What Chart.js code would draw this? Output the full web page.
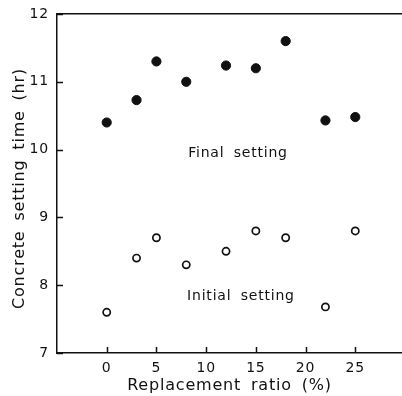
<!DOCTYPE html>
<html>
<head>
<meta charset="utf-8">
<script src="https://cdn.jsdelivr.net/npm/chart.js@4.4.1/dist/chart.umd.min.js"></script>
<style>
html,body{margin:0;padding:0;background:#fff;}
#wrap{width:402px;height:396px;}
</style>
</head>
<body>
<div id="wrap"><canvas id="c" width="402" height="396"></canvas></div>
<script>
const replacementRatio = [0, 3, 5, 8, 12, 15, 18, 22, 25];
const finalSetting = [10.4, 10.73, 11.3, 11.0, 11.24, 11.2, 11.6, 10.43, 10.48];
const initialSetting = [7.6, 8.4, 8.7, 8.3, 8.5, 8.8, 8.7, 7.68, 8.8];
const xTicks = [0, 5, 10, 15, 20, 25];
const yTicks = [7, 8, 9, 10, 11, 12];
const seriesNames = ['Final setting', 'Initial setting'];
const xTitle = 'Replacement ratio (%)';
const yTitle = 'Concrete setting time (hr)';

const FONT = 'DejaVu Sans';
const INK = '#111';

const toPts = (ys) => replacementRatio.map((x, i) => ({x: x, y: ys[i]}));

const spacing = {
  id: 'spacing',
  beforeDraw(chart) {
    chart.ctx.letterSpacing = '0.8px';
    chart.ctx.wordSpacing = '4px';
  }
};

const extras = {
  id: 'extras',
  afterDraw(chart) {
    const {ctx, chartArea: a, scales: {x, y}} = chart;
    ctx.save();
    ctx.strokeStyle = INK;
    ctx.lineWidth = 1.5;
    ctx.beginPath();
    xTicks.forEach(v => {
      const px = Math.round(x.getPixelForValue(v)) + 0.5;
      ctx.moveTo(px, a.bottom); ctx.lineTo(px, a.bottom - 6);
    });
    yTicks.forEach(v => {
      const py = Math.round(y.getPixelForValue(v)) + 0.5;
      ctx.moveTo(a.left, py); ctx.lineTo(a.left + 6, py);
    });
    ctx.stroke();
    ctx.fillStyle = INK;
    ctx.letterSpacing = '0.8px';
    ctx.wordSpacing = '4px';
    ctx.textAlign = 'center';
    ctx.textBaseline = 'middle';
    ctx.font = '14px "' + FONT + '"';
    ctx.fillText(seriesNames[0], x.getPixelForValue(13.2), y.getPixelForValue(9.95));
    ctx.fillText(seriesNames[1], x.getPixelForValue(13.5), y.getPixelForValue(7.83));
    // y axis title
    ctx.font = '16px "' + FONT + '"';
    ctx.translate(20, (a.top + a.bottom) / 2 + 5);
    ctx.rotate(-Math.PI / 2);
    ctx.fillText(yTitle, 0, 0);
    ctx.restore();
  }
};

const noPadX = (h) => (s) => { s.height = h; s.paddingLeft = 0; s.paddingRight = 0; };

new Chart(document.getElementById('c'), {
  type: 'scatter',
  data: {
    datasets: [
      {
        label: seriesNames[0],
        data: toPts(finalSetting),
        pointStyle: 'circle',
        pointRadius: 4.6,
        backgroundColor: INK,
        borderColor: INK,
        borderWidth: 1
      },
      {
        label: seriesNames[1],
        data: toPts(initialSetting),
        pointStyle: 'circle',
        pointRadius: 3.6,
        backgroundColor: '#fff',
        borderColor: INK,
        borderWidth: 1.7
      }
    ]
  },
  options: {
    responsive: false,
    animation: false,
    devicePixelRatio: 1,
    layout: {padding: 0, autoPadding: false},
    plugins: {legend: {display: false}, tooltip: {enabled: false}},
    scales: {
      x: {
        type: 'linear',
        position: 'bottom',
        min: -5,
        max: 29.7,
        afterBuildTicks: (s) => { s.ticks = xTicks.map(v => ({value: v})); },
        afterFit: noPadX(43),
        grid: {display: true, drawOnChartArea: false, drawTicks: false},
        border: {display: true, color: INK, width: 1.5},
        ticks: {
          color: INK, padding: 7, maxRotation: 0, autoSkip: false,
          font: {family: FONT, size: 14},
          callback: (v) => String(v)
        },
        title: {
          display: true, text: xTitle, color: INK,
          font: {family: FONT, size: 16},
          padding: {top: 0, bottom: 1}
        }
      },
      xTop: {
        type: 'linear',
        position: 'top',
        min: -5,
        max: 29.7,
        afterFit: noPadX(14),
        grid: {display: true, drawOnChartArea: false, drawTicks: false},
        border: {display: true, color: INK, width: 1.5},
        ticks: {display: false}
      },
      y: {
        type: 'linear',
        position: 'left',
        min: 7,
        max: 12,
        afterBuildTicks: (s) => { s.ticks = yTicks.map(v => ({value: v})); },
        afterFit: (s) => { s.width = 57; s.paddingTop = 0; s.paddingBottom = 0; },
        grid: {display: true, drawOnChartArea: false, drawTicks: false},
        border: {display: true, color: INK, width: 1.5},
        ticks: {
          color: INK, padding: 8,
          font: {family: FONT, size: 14},
          callback: (v) => String(v)
        },
        title: {display: false, text: yTitle}
      }
    }
  },
  plugins: [spacing, extras]
});
</script>
</body>
</html>
